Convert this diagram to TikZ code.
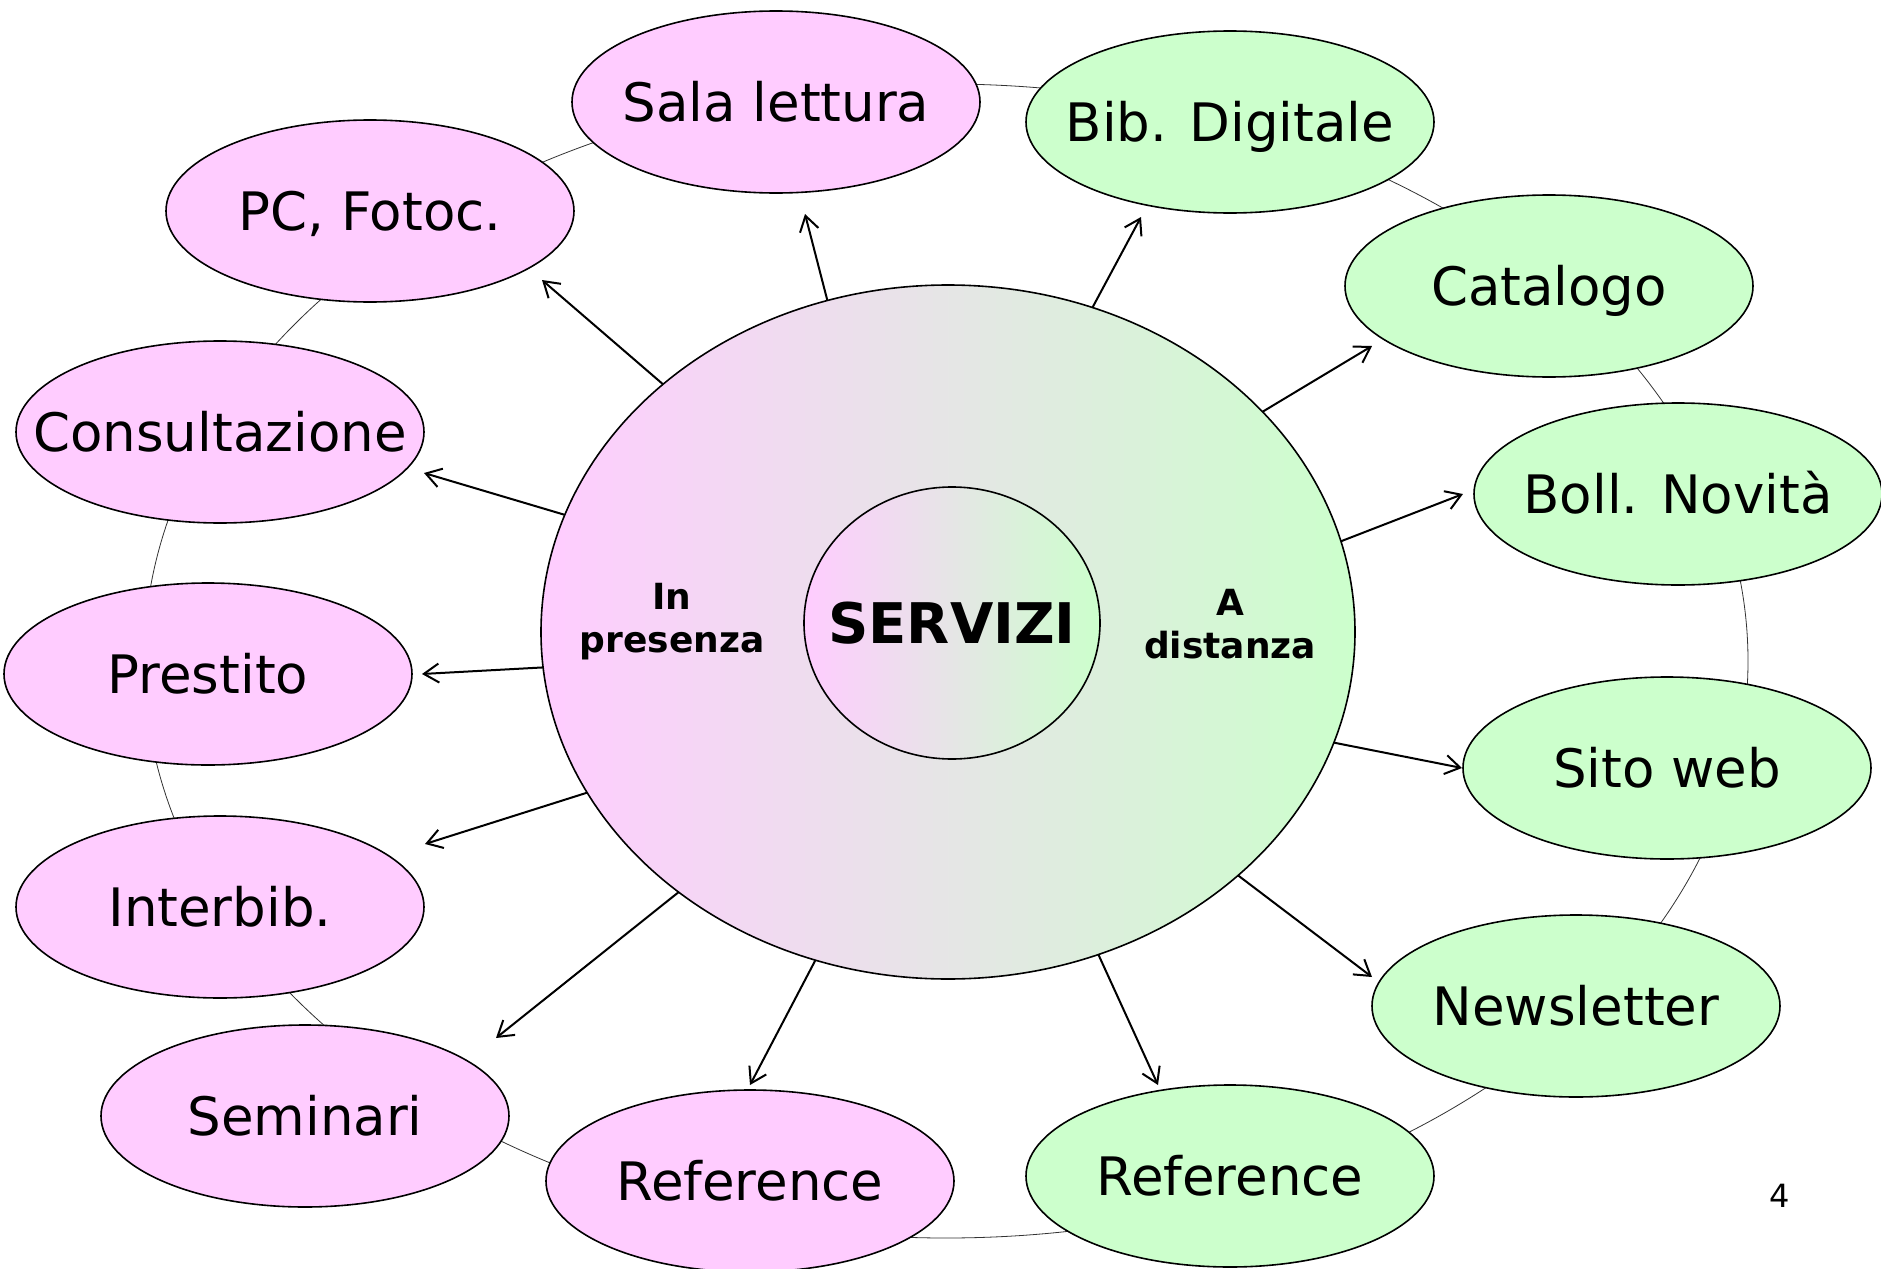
\documentclass[tikz,border=0pt]{standalone}
\usepackage{fontspec}
\setmainfont{DejaVu Sans}
\usetikzlibrary{shapes.geometric,arrows.meta}
\definecolor{pinkfill}{HTML}{FFCCFF}
\definecolor{greenfill}{HTML}{CCFFCC}
\newcommand{\zw}[1]{\makebox[0pt]{#1}}
\begin{document}
\begin{tikzpicture}[x=0.5pt,y=-0.5pt,
  bub/.style={ellipse,draw=black,line width=0.8pt,minimum width=204pt,minimum height=91pt,inner sep=0pt,outer sep=0pt,font=\fontsize{26.5}{30}\selectfont,text height=19.3pt,text depth=0pt},
  pinkb/.style={bub,fill=pinkfill},
  greenb/.style={bub,fill=greenfill},
  grad/.style={ellipse,draw=black,line width=0.8pt,left color=pinkfill,right color=greenfill,inner sep=0pt,outer sep=0pt},
  arr/.style={-{Straight Barb[length=7.5pt,width=9.5pt]},line width=1pt},
  ring/.style={draw=black!80,line width=0.4pt},
  side/.style={font=\bfseries\fontsize{18}{21.6}\selectfont,align=center,inner sep=0pt}
]
\useasboundingbox[fill=white] (0,0) rectangle (1881,1269);
% background ring
\coordinate (ringc) at (946,661);
\draw[ring] (ringc) ellipse [x radius=401pt, y radius=288.5pt];
% satellites
\node[pinkb] (sala) at (776,102) {\zw{Sala lettura}};
\node[greenb] (bib) at (1230,122) {\zw{Bib. Digitale}};
\node[pinkb] (pc) at (370,211) {\zw{PC, Fotoc.}};
\node[greenb] (cat) at (1549,286) {\zw{Catalogo}};
\node[pinkb] (cons) at (220,432) {\zw{Consultazione}};
\node[greenb] (boll) at (1678,494) {\zw{Boll. Novità}};
\node[pinkb] (prest) at (208,674) {\zw{Prestito}};
\node[greenb] (sito) at (1667,768) {\zw{Sito web}};
\node[pinkb] (inter) at (220,907) {\zw{Interbib.}};
\node[greenb] (news) at (1576,1006) {\zw{Newsletter}};
\node[pinkb] (sem) at (305,1116) {\zw{Seminari}};
\node[pinkb] (refp) at (750,1181) {\zw{Reference}};
\node[greenb] (refg) at (1230,1176) {\zw{Reference}};
% centre
\node[grad,minimum width=407pt,minimum height=347pt] (big) at (948,632) {};
\node[grad,minimum width=148pt,minimum height=136pt,font=\bfseries\fontsize{28}{32}\selectfont,text height=20.4pt,text depth=0pt] (core) at (952,623) {\zw{SERVIZI}};
\node[side] (inp) at (672,622) {In\\presenza};
\node[side] (dist) at (1230,624) {A\\distanza};
% arrow tips
\coordinate (tsala) at (805,214);
\coordinate (tbib) at (1141,217);
\coordinate (tpc) at (542,280);
\coordinate (tcat) at (1372,346);
\coordinate (tcons) at (424,473);
\coordinate (tboll) at (1463,494);
\coordinate (tprest) at (422,674);
\coordinate (tsito) at (1462,768);
\coordinate (tinter) at (425,844);
\coordinate (tnews) at (1372,977);
\coordinate (tsem) at (496,1038);
\coordinate (trefp) at (750,1085);
\coordinate (trefg) at (1158,1085);
\draw[arr] (big.110.2) -- (tsala);
\draw[arr] (big.66.8) -- (tbib);
\draw[arr] (big.139.9) -- (tpc);
\draw[arr] (big.35.1) -- (tcat);
\draw[arr] (big.163.1) -- (tcons);
\draw[arr] (big.13.2) -- (tboll);
\draw[arr] (big.185.5) -- (tprest);
\draw[arr] (big.-16.8) -- (tsito);
\draw[arr] (big.204.7) -- (tinter);
\draw[arr] (big.-40.5) -- (tnews);
\draw[arr] (big.224) -- (tsem);
\draw[arr] (big.248.1) -- (trefp);
\draw[arr] (big.-65.2) -- (trefg);
% page number
\node[font=\fontsize{16}{19}\selectfont] (pg) at (1780,1196) {4};
\end{tikzpicture}
\end{document}
